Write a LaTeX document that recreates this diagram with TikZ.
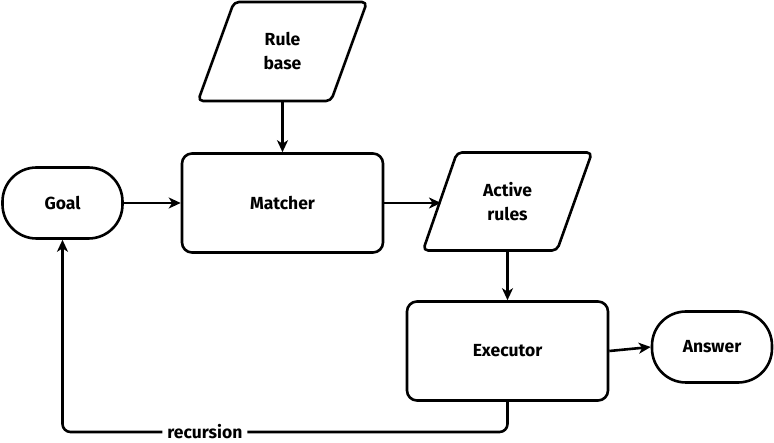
\documentclass[tikz,border=0pt]{standalone}
\usepackage{fontspec}
\setmainfont{Fira Sans}
\usetikzlibrary{arrows.meta,calc}
\begin{document}
\begin{tikzpicture}[x=1pt,y=-1pt,
  line width=2.6pt, line join=round,
  every node/.style={font=\fontsize{17.5}{24}\selectfont\bfseries, align=center},
  box/.style={draw, rounded corners=10pt, minimum width=201pt, minimum height=99pt, inner sep=0pt},
  term/.style={draw, rounded corners=34pt, minimum width=120pt, minimum height=71pt, inner sep=0pt},
  databox/.style={minimum width=100pt, minimum height=99pt, inner sep=0pt},
  paraline/.style={draw, rounded corners=5pt},
  arr/.style={-{Stealth[length=12pt,width=11pt,inset=3.5pt]}},
  lbl/.style={fill=white, inner sep=5pt}]
\useasboundingbox (0,0) rectangle (774,443);

\node[databox] (rb) at (282.5,51.5) {Rule\\base};
\draw[paraline] ($(rb.center)+(-84.5,49.5)$) -- ($(rb.center)+(48.5,49.5)$) -- ($(rb.center)+(84.5,-49.5)$) -- ($(rb.center)+(-48.5,-49.5)$) -- cycle;

\node[box] (ma) at (282.5,203) {Matcher};
\node[term] (go) at (62.5,203) {Goal};

\node[databox] (ar) at (507.5,201.5) {Active\\rules};
\draw[paraline] ($(ar.center)+(-84.5,49)$) -- ($(ar.center)+(49.5,49)$) -- ($(ar.center)+(84.5,-49)$) -- ($(ar.center)+(-50.5,-49)$) -- cycle;
\coordinate (arin) at (441,203);

\node[box] (ex) at (507.5,351) {Executor};
\node[term] (an) at (712,347) {Answer};

\draw[arr] (rb.south) -- (ma.north);
\draw[arr] (go.east) -- (ma.west);
\draw[arr] (ma.east) -- (arin);
\draw[arr] (ar.south) -- (ex.north);
\draw[arr] (ex.east) -- (an.west);
\coordinate (low) at (62.5,432);
\draw[arr, rounded corners=8pt] (ex.south) |- node[lbl, pos=0.84] {recursion} (low) -- (go.south);
\end{tikzpicture}
\end{document}
